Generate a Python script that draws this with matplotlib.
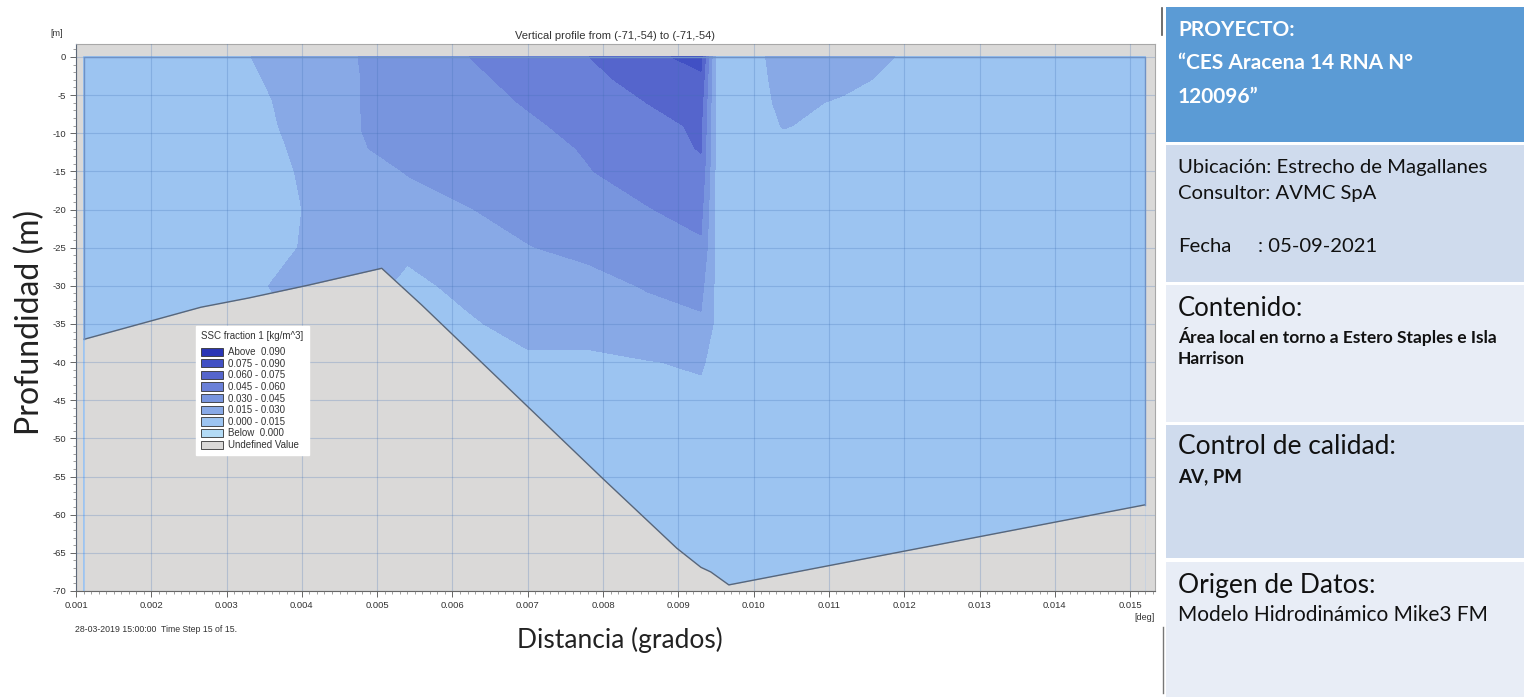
import numpy as np
import matplotlib
matplotlib.use("Agg")
import matplotlib.pyplot as plt
from matplotlib.patches import Patch, Rectangle
from matplotlib.lines import Line2D
from matplotlib.ticker import MultipleLocator, FormatStrFormatter

plt.rcParams['font.family'] = ['Liberation Sans', 'DejaVu Sans']

# --- data -----------------------------------------------------------------
# SSC field [kg/m^3] on a coarse section grid (columns = distance, rows = depth)
dist = [0.0011, 0.0030, 0.0036, 0.0042, 0.0048, 0.0054, 0.0062, 0.0070, 0.0078,
        0.0086, 0.0093, 0.0095, 0.0101, 0.0104, 0.0112, 0.0121, 0.0152]
depth = [0, -3, -6, -9, -12, -15, -20, -25, -30, -35, -40, -45, -50, -60, -70]
ssc = [
    [.005, .012, .0175, .025, .0305, .038, .0448, .052, .0598, .071, .080, .012, .014, .019, .018, .014, .008],
    [.005, .011, .016, .023, .0302, .036, .042, .049, .057, .064, .072, .012, .0135, .018, .017, .012, .008],
    [.005, .010, .0148, .023, .0302, .035, .040, .046, .053, .0602, .066, .012, .013, .017, .014, .010, .008],
    [.005, .010, .014, .021, .0302, .034, .038, .043, .049, .056, .062, .012, .012, .0155, .012, .010, .008],
    [.005, .009, .013, .019, .0295, .033, .037, .041, .046, .052, .061, .012, .011, .012, .010, .009, .008],
    [.005, .009, .012, .018, .026, .0305, .035, .039, .0445, .050, .056, .012, .010, .010, .009, .009, .008],
    [.004, .008, .011, .017, .022, .026, .0295, .034, .039, .0445, .049, .012, .010, .009, .009, .008, .008],
    [.004, .008, .011, .018, .021, .0175, .027, .0295, .033, .037, .043, .012, .010, .009, .008, .008, .008],
    [.004, .008, .0155, .019, .020, .012, .018, .022, .026, .031, .034, .012, .010, .009, .008, .008, .008],
    [.004, .008, .012, .016, .016, .012, .0135, .019, .021, .025, .028, .012, .010, .009, .008, .008, .008],
    [.004, .007, .010, .012, .012, .010, .011, .013, .012, .0145, .0165, .011, .010, .009, .008, .008, .008],
    [.004, .007, .010, .011, .011, .010, .010, .011, .011, .012, .012, .011, .010, .009, .008, .008, .008],
    [.004, .007, .009, .010, .010, .010, .010, .010, .010, .011, .011, .010, .010, .009, .008, .008, .008],
    [.004, .006, .008, .009, .009, .009, .009, .009, .010, .010, .010, .010, .009, .009, .008, .008, .008],
    [.004, .006, .008, .008, .008, .008, .009, .009, .009, .009, .009, .009, .009, .008, .008, .008, .008],
]

# sea bed along the profile
bed_x = [0.00111, 0.00266, 0.00329, 0.00409, 0.00506, 0.00559, 0.00800, 0.00898,
         0.00930, 0.00943, 0.00967, 0.01520]
bed_z = [-37.0, -32.8, -31.6, -29.9, -27.7, -32.5, -55.3, -64.4, -66.9, -67.5, -69.2, -58.7]

levels = [-1, 0.0, 0.015, 0.030, 0.045, 0.060, 0.075, 0.090, 1]
level_colors = ['#b3dbf6', '#9cc4f1', '#88a9e6', '#7895de', '#6a80d8', '#5565cc', '#4150c4', '#2a35b5']
legend_labels = ['Above  0.090', '0.075 - 0.090', '0.060 - 0.075', '0.045 - 0.060',
                 '0.030 - 0.045', '0.015 - 0.030', '0.000 - 0.015', 'Below  0.000', 'Undefined Value']
land = '#dad9d8'

W, H = 1524, 697
fig = plt.figure(figsize=(W / 100, H / 100), dpi=100)

def fx(px):
    return px / W

def fy(py):
    return 1 - py / H

ax = fig.add_axes([fx(76), fy(591), fx(1155) - fx(76), fy(44) - fy(591)])
ax.set_facecolor(land)

ax.contourf(dist, depth, np.array(ssc), levels=levels, colors=level_colors, zorder=1)
ax.fill_between(bed_x, bed_z, -80, color=land, lw=0, zorder=1.5)
ax.plot(bed_x, bed_z, color='#58667a', lw=1, zorder=3)
ax.plot([bed_x[0], bed_x[0], bed_x[-1], bed_x[-1]], [bed_z[0], 0, 0, bed_z[-1]],
        color='#6f92c6', lw=1, zorder=3)

ax.set_xlim(0.001, 0.01533)
ax.set_ylim(-70, 1.7)
ax.xaxis.set_major_locator(MultipleLocator(0.001))
ax.xaxis.set_minor_locator(MultipleLocator(0.0001))
ax.xaxis.set_major_formatter(FormatStrFormatter('%.3f'))
ax.yaxis.set_major_locator(MultipleLocator(5))
ax.yaxis.set_minor_locator(MultipleLocator(1))
ax.yaxis.set_major_formatter(FormatStrFormatter('%d'))
ax.tick_params(which='major', length=4, width=0.7, color='#666666', labelsize=6.8,
               labelcolor='#333333', pad=3)
ax.tick_params(which='minor', length=2, width=0.5, color='#777777')
ax.set_axisbelow(False)
ax.grid(which='major', color='#3f6fb5', alpha=0.25, lw=0.8)
for s in ax.spines.values():
    s.set_color('#a8a8a8')
    s.set_linewidth(0.8)
ax.spines['left'].set_color('#666666')
ax.spines['bottom'].set_color('#666666')

handles = [Patch(facecolor=c, edgecolor='#333333', lw=0.6) for c in level_colors[::-1]]
handles.append(Patch(facecolor=land, edgecolor='#333333', lw=0.6))
leg = ax.legend(handles, legend_labels, title='SSC fraction 1 [kg/m^3]', loc='upper left',
                bbox_to_anchor=((196 - 76) / (1155 - 76), (591 - 326) / (591 - 44)),
                fontsize=7, title_fontsize=7, handlelength=2.2, handleheight=0.9,
                labelspacing=0.17, handletextpad=0.5, borderpad=0.55, fancybox=False,
                framealpha=1, edgecolor='white', borderaxespad=0)
leg._legend_box.align = 'left'
leg.get_title().set_color('#333333')
for t in leg.get_texts():
    t.set_color('#333333')
# a little extra white space under the last entry, as in the original box
leg.get_frame().set_height(leg.get_frame().get_height())
leg._legend_box.sep = 4

fig.text(fx(57), fy(33), '[m]', fontsize=6.5, color='#333333', ha='center', va='center')
fig.text(fx(1155), fy(618), '[deg]', fontsize=6.5, color='#333333', ha='right', va='center')
fig.text(fx(615), fy(36), 'Vertical profile from (-71,-54) to (-71,-54)', fontsize=8,
         color='#333333', ha='center', va='center')
fig.text(fx(75), fy(629), '28-03-2019 15:00:00  Time Step 15 of 15.', fontsize=6.3,
         color='#333333', ha='left', va='center')

fig.text(fx(620), fy(640), 'Distancia (grados)', fontsize=19, family='Lato',
         color='#222222', ha='center', va='center')
fig.text(fx(30), fy(322), 'Profundidad (m)', fontsize=23, family='Lato', rotation=90,
         color='#222222', ha='center', va='center')

# --- side panel ---------------------------------------------------------
panels = [(7, 142, '#5b9bd5'), (145, 282, '#cfdbed'), (285, 422, '#e8edf6'),
          (425, 558, '#cfdbed'), (562, 697, '#e8edf6')]
for top, bot, col in panels:
    fig.patches.append(Rectangle((fx(1166), fy(bot)), fx(1524) - fx(1166), fy(top) - fy(bot),
                                 transform=fig.transFigure, facecolor=col, edgecolor='none'))
fig.add_artist(Line2D([fx(1162), fx(1162)], [fy(8), fy(35)], color='#555555', lw=1.2))
fig.add_artist(Line2D([fx(1163), fx(1163)], [fy(627), fy(693)], color='#777777', lw=1))

def ptxt(x, py, s, size, weight='normal', color='#111111'):
    fig.text(fx(x), fy(py), s, fontsize=size, weight=weight, color=color,
             family='Lato', ha='left', va='center')

ptxt(1178, 30, 'PROYECTO:', 15, 'bold', 'white')
ptxt(1178, 63, '“CES Aracena 14 RNA N°', 15, 'bold', 'white')
ptxt(1178, 97, '120096”', 15, 'bold', 'white')
ptxt(1178, 168, 'Ubicación: Estrecho de Magallanes', 14.6)
ptxt(1178, 194, 'Consultor: AVMC SpA', 14.6)
ptxt(1178, 246, 'Fecha', 14.6)
ptxt(1258, 246, ': 05-09-2021', 14.6)
ptxt(1178, 309, 'Contenido:', 18.5)
ptxt(1178, 337, 'Área local en torno a Estero Staples e Isla', 12.5, 'bold')
ptxt(1178, 359, 'Harrison', 12.5, 'bold')
ptxt(1178, 447, 'Control de calidad:', 19)
ptxt(1178, 477, 'AV, PM', 13.5, 'bold')
ptxt(1178, 586, 'Origen de Datos:', 19)
ptxt(1178, 615, 'Modelo Hidrodinámico Mike3 FM', 15)

fig.savefig('out.png', dpi=100)
